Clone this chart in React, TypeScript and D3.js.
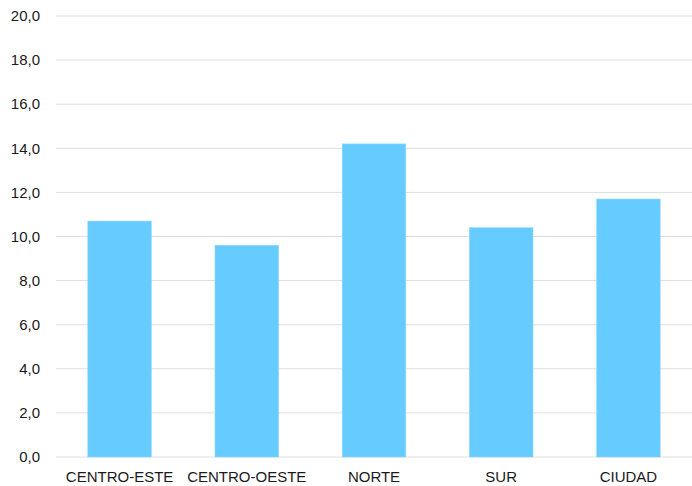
import React from "react";
import * as d3 from "d3";

const categories = ["CENTRO-ESTE", "CENTRO-OESTE", "NORTE", "SUR", "CIUDAD"];
const values = [10.7, 9.6, 14.2, 10.4, 11.7];
const yTicks = [0, 2, 4, 6, 8, 10, 12, 14, 16, 18, 20];

const W = 692;
const H = 486;
const margin = { left: 56, right: 0, top: 16, bottom: 29 };

export default function App() {
  const x = d3
    .scaleBand<string>()
    .domain(categories)
    .range([margin.left, W - margin.right])
    .paddingInner(0.5)
    .paddingOuter(0.25);
  const y = d3
    .scaleLinear()
    .domain([0, 20])
    .range([H - margin.bottom, margin.top]);
  const fmt = (v: number) => v.toFixed(1).replace(".", ",");
  const font = "'Liberation Sans', Arial, Helvetica, sans-serif";

  return (
    <svg
      width={W}
      height={H}
      style={{ position: "absolute", left: 0, top: 0, background: "#fff" }}
      fontFamily={font}
    >
      {yTicks.map((t) => (
        <g key={t}>
          <line
            x1={margin.left}
            x2={W - margin.right}
            y1={y(t)}
            y2={y(t)}
            stroke="#dedede"
            strokeWidth={1}
          />
          <text
            x={40}
            y={y(t)}
            dy="0.35em"
            textAnchor="end"
            fontSize={15}
            fill="#1a1a1a"
          >
            {fmt(t)}
          </text>
        </g>
      ))}
      {categories.map((c, i) => (
        <g key={c}>
          <rect
            x={x(c)}
            y={y(values[i])}
            width={x.bandwidth()}
            height={y(0) - y(values[i])}
            fill="#66CCFF"
            stroke="#8ad8ff"
            strokeWidth={0.5}
          />
          <text
            x={(x(c) as number) + x.bandwidth() / 2}
            y={482}
            textAnchor="middle"
            fontSize={15}
            fill="#1a1a1a"
          >
            {c}
          </text>
        </g>
      ))}
    </svg>
  );
}
